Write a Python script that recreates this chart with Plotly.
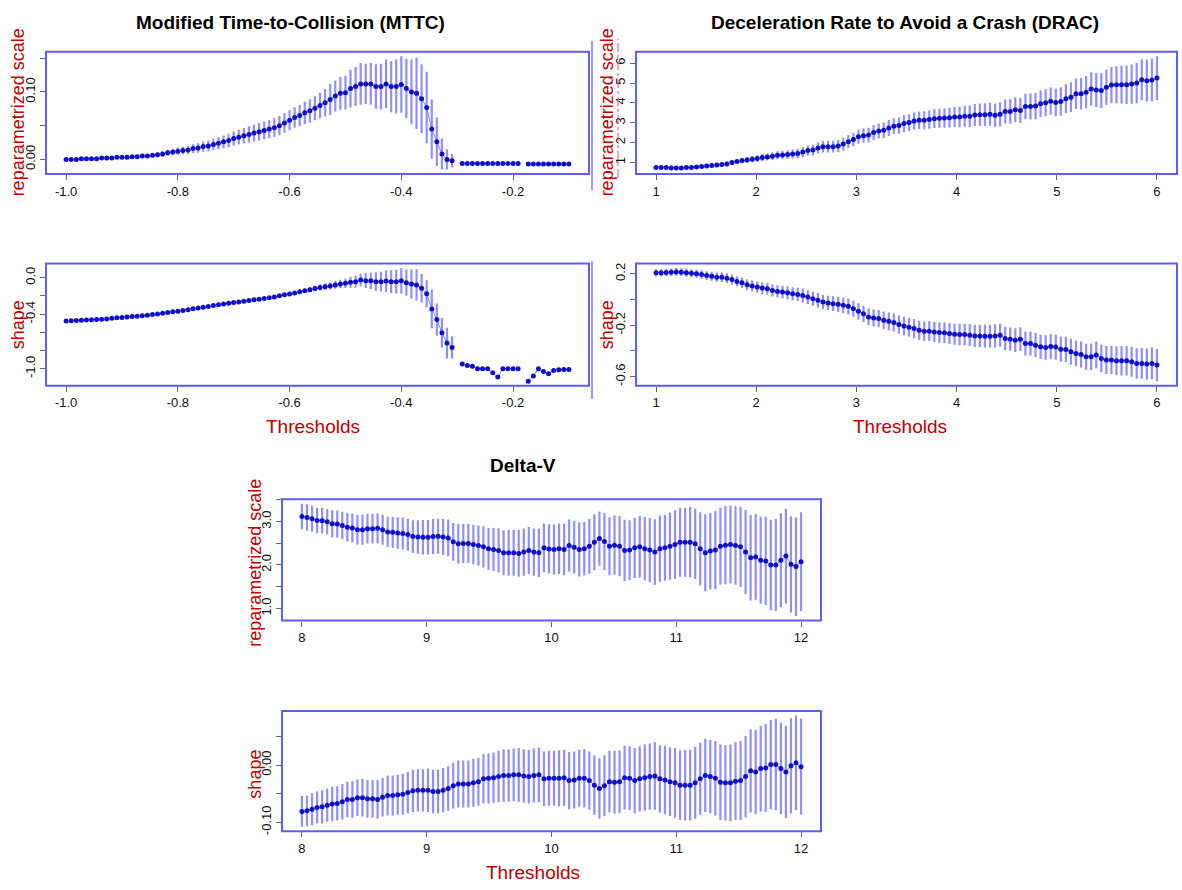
import numpy as np
import plotly.graph_objects as go

W, H = 1182, 890

# ---------------- data ----------------
N_THRESH = 100
MTTC_RANGE = (-1.0, -0.1)
DRAC_RANGE = (1.0, 6.0)
DV_RANGE = (8.0, 12.0)

MTTC_SCALE_MEAN = [
    0.000, 0.000, 0.000, 0.001, 0.001, 0.001, 0.001, 0.002, 0.002, 0.002,
    0.003, 0.003, 0.003, 0.004, 0.004, 0.005, 0.005, 0.006, 0.007, 0.008,
    0.010, 0.011, 0.012, 0.013, 0.014, 0.016, 0.017, 0.019, 0.020, 0.022,
    0.024, 0.026, 0.028, 0.031, 0.033, 0.035, 0.037, 0.039, 0.041, 0.043,
    0.045, 0.047, 0.050, 0.054, 0.058, 0.062, 0.065, 0.069, 0.072, 0.076,
    0.080, 0.084, 0.089, 0.094, 0.098, 0.099, 0.105, 0.108, 0.112, 0.112,
    0.112, 0.108, 0.108, 0.112, 0.108, 0.108, 0.111, 0.105, 0.100, 0.098,
    0.090, 0.077, 0.045, 0.026, 0.008, 0.000, -0.002, None, -0.006, -0.006,
    -0.006, -0.006, -0.006, -0.006, -0.006, -0.006, -0.006, -0.006, -0.006, -0.006,
    None, -0.007, -0.007, -0.007, -0.007, -0.007, -0.007, -0.007, -0.007, -0.007,
]
MTTC_SCALE_CI = [
    0.0005, 0.0006, 0.0007, 0.0008, 0.0009, 0.0010, 0.0011, 0.0012, 0.0013, 0.0015,
    0.0017, 0.0019, 0.0021, 0.0023, 0.0025, 0.0028, 0.0031, 0.0034, 0.0037, 0.0040,
    0.0044, 0.0048, 0.0052, 0.0056, 0.0060, 0.0065, 0.0070, 0.0075, 0.0080, 0.0085,
    0.0090, 0.0095, 0.0100, 0.0105, 0.0110, 0.0115, 0.0120, 0.0125, 0.0130, 0.0133,
    0.0136, 0.0139, 0.0142, 0.0145, 0.0148, 0.0152, 0.0158, 0.0165, 0.0172, 0.0180,
    0.0190, 0.0205, 0.0230, 0.0230, 0.0245, 0.0250, 0.0280, 0.0290, 0.0310, 0.0300,
    0.0310, 0.0330, 0.0340, 0.0360, 0.0380, 0.0400, 0.0420, 0.0440, 0.0480, 0.0530,
    0.0510, 0.0530, 0.0440, 0.0360, 0.0230, 0.0150, 0.0100, 0, 0, 0,
    0, 0, 0, 0, 0, 0, 0, 0, 0, 0,
    0, 0, 0, 0, 0, 0, 0, 0, 0, 0,
]
MTTC_SHAPE_MEAN = [
    -0.474, -0.472, -0.470, -0.468, -0.465, -0.462, -0.459, -0.456, -0.452, -0.445,
    -0.440, -0.436, -0.431, -0.427, -0.422, -0.417, -0.411, -0.405, -0.397, -0.390,
    -0.382, -0.375, -0.367, -0.359, -0.351, -0.342, -0.333, -0.324, -0.315, -0.306,
    -0.297, -0.289, -0.281, -0.273, -0.266, -0.259, -0.251, -0.243, -0.236, -0.228,
    -0.220, -0.211, -0.199, -0.188, -0.180, -0.167, -0.155, -0.143, -0.131, -0.119,
    -0.108, -0.098, -0.090, -0.079, -0.069, -0.061, -0.051, -0.043, -0.025, -0.033,
    -0.033, -0.043, -0.043, -0.036, -0.043, -0.043, -0.033, -0.054, -0.069, -0.079,
    -0.116, -0.177, -0.343, -0.459, -0.603, -0.718, -0.765, None, -0.946, -0.964,
    -0.971, -1.000, -1.000, -1.000, -1.043, -1.090, -1.000, -1.000, -1.000, -1.000,
    None, -1.137, -1.079, -1.000, -1.029, -1.054, -1.018, -1.011, -1.007, -1.007,
]
MTTC_SHAPE_CI = [
    0.004, 0.004, 0.004, 0.004, 0.004, 0.004, 0.004, 0.004, 0.004, 0.004,
    0.004, 0.004, 0.004, 0.004, 0.004, 0.004, 0.004, 0.004, 0.004, 0.004,
    0.005, 0.005, 0.005, 0.005, 0.005, 0.005, 0.005, 0.005, 0.005, 0.005,
    0.006, 0.006, 0.007, 0.007, 0.008, 0.008, 0.009, 0.010, 0.011, 0.012,
    0.013, 0.014, 0.015, 0.016, 0.018, 0.020, 0.022, 0.025, 0.028, 0.031,
    0.034, 0.037, 0.040, 0.043, 0.047, 0.053, 0.060, 0.065, 0.069, 0.081,
    0.090, 0.103, 0.108, 0.117, 0.126, 0.130, 0.139, 0.144, 0.159, 0.173,
    0.157, 0.150, 0.213, 0.177, 0.162, 0.168, 0.123, 0, 0, 0,
    0, 0, 0, 0, 0, 0, 0, 0, 0, 0,
    0, 0, 0, 0, 0, 0, 0, 0, 0, 0,
]

DRAC_SCALE_MEAN = [
    0.75, 0.75, 0.75, 0.72, 0.72, 0.73, 0.75, 0.75, 0.78, 0.80,
    0.83, 0.85, 0.87, 0.90, 0.93, 1.00, 1.05, 1.10, 1.13, 1.17,
    1.20, 1.25, 1.28, 1.32, 1.37, 1.38, 1.40, 1.43, 1.45, 1.53,
    1.60, 1.63, 1.73, 1.80, 1.80, 1.80, 1.83, 1.93, 2.05, 2.16,
    2.30, 2.35, 2.38, 2.51, 2.59, 2.63, 2.74, 2.83, 2.86, 2.96,
    3.01, 3.09, 3.13, 3.13, 3.16, 3.21, 3.23, 3.24, 3.26, 3.29,
    3.29, 3.33, 3.33, 3.39, 3.41, 3.41, 3.43, 3.38, 3.43, 3.57,
    3.57, 3.66, 3.62, 3.82, 3.82, 3.84, 3.96, 4.01, 4.09, 4.02,
    4.07, 4.21, 4.29, 4.46, 4.46, 4.54, 4.70, 4.65, 4.62, 4.79,
    4.90, 4.92, 4.92, 4.92, 4.95, 5.00, 5.17, 5.12, 5.15, 5.25,
]
DRAC_SCALE_CI = [
    0.06, 0.06, 0.06, 0.06, 0.07, 0.07, 0.07, 0.08, 0.08, 0.09,
    0.09, 0.10, 0.10, 0.11, 0.12, 0.12, 0.13, 0.14, 0.15, 0.16,
    0.17, 0.18, 0.18, 0.19, 0.20, 0.21, 0.22, 0.23, 0.24, 0.25,
    0.26, 0.27, 0.28, 0.29, 0.29, 0.30, 0.31, 0.32, 0.33, 0.34,
    0.35, 0.36, 0.37, 0.38, 0.38, 0.39, 0.40, 0.40, 0.41, 0.42,
    0.42, 0.43, 0.44, 0.45, 0.46, 0.47, 0.48, 0.49, 0.50, 0.51,
    0.52, 0.53, 0.54, 0.55, 0.56, 0.57, 0.58, 0.59, 0.62, 0.60,
    0.61, 0.62, 0.63, 0.64, 0.65, 0.66, 0.67, 0.68, 0.69, 0.70,
    0.72, 0.73, 0.75, 0.77, 0.79, 0.81, 0.84, 0.86, 0.87, 0.89,
    0.91, 0.93, 0.95, 0.97, 0.99, 1.01, 1.03, 1.05, 1.07, 1.10,
]
DRAC_SHAPE_MEAN = [
    0.208, 0.208, 0.210, 0.213, 0.215, 0.213, 0.208, 0.205, 0.200, 0.195,
    0.187, 0.182, 0.174, 0.174, 0.166, 0.156, 0.141, 0.130, 0.115, 0.105,
    0.097, 0.089, 0.084, 0.071, 0.063, 0.058, 0.053, 0.045, 0.040, 0.032,
    0.019, 0.006, -0.006, -0.019, -0.027, -0.032, -0.037, -0.045, -0.053, -0.071,
    -0.092, -0.110, -0.135, -0.143, -0.148, -0.161, -0.169, -0.179, -0.195, -0.205,
    -0.215, -0.226, -0.239, -0.246, -0.246, -0.252, -0.257, -0.259, -0.265, -0.270,
    -0.272, -0.272, -0.277, -0.283, -0.283, -0.285, -0.285, -0.283, -0.277, -0.303,
    -0.308, -0.316, -0.308, -0.342, -0.342, -0.355, -0.368, -0.373, -0.365, -0.370,
    -0.386, -0.388, -0.406, -0.419, -0.427, -0.445, -0.445, -0.432, -0.458, -0.471,
    -0.471, -0.476, -0.476, -0.476, -0.484, -0.497, -0.497, -0.502, -0.497, -0.510,
]
DRAC_SHAPE_CI = [
    0.028, 0.028, 0.029, 0.029, 0.030, 0.030, 0.031, 0.031, 0.032, 0.033,
    0.034, 0.035, 0.036, 0.037, 0.038, 0.039, 0.040, 0.041, 0.042, 0.043,
    0.044, 0.045, 0.046, 0.047, 0.048, 0.049, 0.050, 0.051, 0.052, 0.053,
    0.054, 0.055, 0.056, 0.057, 0.057, 0.058, 0.059, 0.060, 0.061, 0.062,
    0.063, 0.064, 0.065, 0.066, 0.067, 0.068, 0.069, 0.070, 0.071, 0.072,
    0.073, 0.074, 0.075, 0.076, 0.077, 0.078, 0.079, 0.080, 0.081, 0.082,
    0.083, 0.084, 0.085, 0.086, 0.087, 0.088, 0.089, 0.090, 0.090, 0.091,
    0.091, 0.092, 0.092, 0.093, 0.093, 0.094, 0.094, 0.095, 0.095, 0.096,
    0.097, 0.098, 0.099, 0.100, 0.101, 0.102, 0.104, 0.105, 0.107, 0.109,
    0.110, 0.112, 0.114, 0.115, 0.117, 0.119, 0.120, 0.122, 0.124, 0.126,
]

DV_SCALE_MEAN = [
    3.117, 3.095, 3.064, 3.026, 3.019, 2.996, 2.950, 2.943, 2.912, 2.867,
    2.852, 2.814, 2.814, 2.837, 2.837, 2.844, 2.814, 2.761, 2.753, 2.738,
    2.723, 2.700, 2.654, 2.647, 2.639, 2.639, 2.654, 2.662, 2.647, 2.624,
    2.533, 2.487, 2.495, 2.495, 2.472, 2.449, 2.419, 2.373, 2.358, 2.335,
    2.282, 2.282, 2.282, 2.267, 2.297, 2.335, 2.297, 2.282, 2.396, 2.370,
    2.358, 2.373, 2.358, 2.449, 2.411, 2.358, 2.373, 2.434, 2.525, 2.609,
    2.540, 2.434, 2.457, 2.434, 2.335, 2.343, 2.396, 2.419, 2.373, 2.343,
    2.297, 2.373, 2.396, 2.434, 2.472, 2.525, 2.525, 2.525, 2.487, 2.373,
    2.282, 2.320, 2.343, 2.434, 2.457, 2.472, 2.449, 2.419, 2.297, 2.168,
    2.183, 2.108, 2.092, 2.001, 2.001, 2.108, 2.206, 2.016, 1.963, 2.077,
]
DV_SCALE_CI = [
    0.296, 0.304, 0.300, 0.296, 0.292, 0.296, 0.311, 0.311, 0.315, 0.323,
    0.334, 0.342, 0.349, 0.342, 0.342, 0.342, 0.345, 0.349, 0.361, 0.361,
    0.364, 0.368, 0.380, 0.387, 0.399, 0.399, 0.406, 0.402, 0.414, 0.425,
    0.437, 0.452, 0.452, 0.452, 0.456, 0.463, 0.475, 0.482, 0.494, 0.509,
    0.516, 0.532, 0.532, 0.539, 0.543, 0.543, 0.543, 0.558, 0.562, 0.569,
    0.577, 0.581, 0.592, 0.600, 0.607, 0.623, 0.615, 0.634, 0.645, 0.626,
    0.661, 0.668, 0.683, 0.695, 0.706, 0.691, 0.695, 0.714, 0.733, 0.740,
    0.759, 0.759, 0.759, 0.774, 0.790, 0.797, 0.797, 0.809, 0.809, 0.843,
    0.885, 0.881, 0.904, 0.885, 0.900, 0.900, 0.904, 0.923, 0.968, 0.987,
    0.987, 1.002, 1.017, 1.044, 1.063, 1.082, 1.093, 1.109, 1.139, 1.139,
]
DV_SHAPE_MEAN = [
    -0.081, -0.080, -0.077, -0.074, -0.073, -0.070, -0.068, -0.067, -0.064, -0.060,
    -0.060, -0.057, -0.057, -0.059, -0.059, -0.060, -0.056, -0.053, -0.053, -0.052,
    -0.051, -0.048, -0.045, -0.044, -0.044, -0.044, -0.046, -0.046, -0.044, -0.041,
    -0.036, -0.033, -0.033, -0.033, -0.031, -0.029, -0.024, -0.023, -0.022, -0.020,
    -0.018, -0.018, -0.017, -0.017, -0.019, -0.020, -0.018, -0.017, -0.024, -0.023,
    -0.023, -0.023, -0.022, -0.027, -0.026, -0.023, -0.023, -0.027, -0.035, -0.041,
    -0.036, -0.029, -0.030, -0.029, -0.022, -0.023, -0.027, -0.024, -0.022, -0.020,
    -0.019, -0.024, -0.026, -0.029, -0.031, -0.035, -0.035, -0.035, -0.031, -0.024,
    -0.018, -0.020, -0.023, -0.030, -0.031, -0.031, -0.028, -0.027, -0.020, -0.010,
    -0.012, -0.006, -0.005, 0.001, 0.001, -0.006, -0.012, -0.001, 0.004, -0.003,
]
DV_SHAPE_CI = [
    0.027, 0.027, 0.028, 0.028, 0.029, 0.029, 0.030, 0.030, 0.031, 0.031,
    0.032, 0.032, 0.033, 0.033, 0.033, 0.034, 0.034, 0.035, 0.035, 0.035,
    0.036, 0.036, 0.037, 0.037, 0.037, 0.038, 0.038, 0.038, 0.039, 0.039,
    0.040, 0.041, 0.041, 0.041, 0.042, 0.042, 0.043, 0.044, 0.044, 0.045,
    0.046, 0.046, 0.046, 0.047, 0.047, 0.047, 0.047, 0.048, 0.048, 0.048,
    0.048, 0.049, 0.049, 0.050, 0.050, 0.050, 0.051, 0.051, 0.052, 0.053,
    0.053, 0.054, 0.055, 0.055, 0.056, 0.056, 0.057, 0.057, 0.058, 0.058,
    0.059, 0.059, 0.060, 0.060, 0.061, 0.061, 0.062, 0.062, 0.063, 0.063,
    0.064, 0.064, 0.065, 0.066, 0.066, 0.067, 0.068, 0.069, 0.071, 0.073,
    0.074, 0.075, 0.077, 0.078, 0.080, 0.080, 0.081, 0.083, 0.083, 0.084,
]

TITLES = ["Modified Time-to-Collision (MTTC)",
          "Deceleration Rate to Avoid a Crash (DRAC)",
          "Delta-V"]
YLAB_SCALE = "reparametrized scale"
YLAB_SHAPE = "shape"
XLAB = "Thresholds"

X_TICKS = {
    "mttc": ([-1.0, -0.8, -0.6, -0.4, -0.2], ["-1.0", "-0.8", "-0.6", "-0.4", "-0.2"]),
    "drac": ([1, 2, 3, 4, 5, 6], ["1", "2", "3", "4", "5", "6"]),
    "dv": ([8, 9, 10, 11, 12], ["8", "9", "10", "11", "12"]),
}
Y_TICKS = {
    "mttc_scale": ([0.0, 0.05, 0.10, 0.15], ["0.00", "", "0.10", ""]),
    "mttc_shape": ([0.0, -0.2, -0.4, -0.6, -0.8, -1.0], ["0.0", "", "-0.4", "", "", "-1.0"]),
    "drac_scale": ([1, 2, 3, 4, 5, 6], ["1", "2", "3", "4", "5", "6"]),
    "drac_shape": ([0.2, 0.0, -0.2, -0.4, -0.6], ["0.2", "", "-0.2", "", "-0.6"]),
    "dv_scale": ([1.0, 1.5, 2.0, 2.5, 3.0, 3.5], ["1.0", "", "2.0", "", "3.0", ""]),
    "dv_shape": ([-0.10, -0.05, 0.0, 0.05], ["-0.10", "", "0.00", ""]),
}

# ---------------- styling ----------------
FONT = "Arial, Liberation Sans, sans-serif"
RED = "#C00000"
BOX = "#5c5cff"
PT = "#1010cc"
BAR = "rgba(100,100,255,0.72)"
LINE = "rgba(90,90,255,0.8)"

# panel boxes in pixels: (left, right, top, bottom)
PANELS = [
    ("mttc", "mttc_scale", MTTC_RANGE, MTTC_SCALE_MEAN, MTTC_SCALE_CI, (46, 589, 51, 174)),
    ("mttc", "mttc_shape", MTTC_RANGE, MTTC_SHAPE_MEAN, MTTC_SHAPE_CI, (46, 589, 264, 387)),
    ("drac", "drac_scale", DRAC_RANGE, DRAC_SCALE_MEAN, DRAC_SCALE_CI, (636, 1177, 51, 174)),
    ("drac", "drac_shape", DRAC_RANGE, DRAC_SHAPE_MEAN, DRAC_SHAPE_CI, (636, 1177, 264, 387)),
    ("dv", "dv_scale", DV_RANGE, DV_SCALE_MEAN, DV_SCALE_CI, (282, 821, 501, 623)),
    ("dv", "dv_shape", DV_RANGE, DV_SHAPE_MEAN, DV_SHAPE_CI, (282, 821, 714, 835)),
]


def px(x):
    return x / W


def py(y):
    return 1 - y / H


fig = go.Figure()
layout = dict(
    width=W, height=H, margin=dict(l=0, r=0, t=0, b=0),
    paper_bgcolor="white", plot_bgcolor="white", showlegend=False,
    font=dict(family=FONT, color="#111"), hovermode=False,
)
shapes = []

for k, (xkey, ykey, rng, mean, ci, (l, r, t, b)) in enumerate(PANELS):
    idx = "" if k == 0 else str(k + 1)
    thr = np.linspace(rng[0], rng[1], N_THRESH)
    m = np.array([np.nan if v is None else v for v in mean], dtype=float)
    c = np.array(ci, dtype=float)
    lo = np.nanmin(m - c)
    hi = np.nanmax(m + c)
    pad = 0.04 * (hi - lo)
    xpad = 0.04 * (rng[1] - rng[0])

    fig.add_trace(go.Scatter(
        x=thr, y=m, mode="lines+markers",
        xaxis="x" + idx, yaxis="y" + idx,
        line=dict(color=LINE, width=1),
        marker=dict(size=5, color=PT),
        error_y=dict(type="data", array=c, visible=True, thickness=2.2,
                     width=0, color=BAR),
        connectgaps=False,
    ))
    tv, tt = X_TICKS[xkey]
    yv, yt = Y_TICKS[ykey]
    layout["xaxis" + idx] = dict(
        domain=[px(l), px(r)], range=[rng[0] - xpad, rng[1] + xpad],
        anchor="y" + idx, showgrid=False, zeroline=False, showline=False,
        ticks="outside", ticklen=5, tickcolor="#666", tickwidth=1,
        tickvals=tv, ticktext=tt, tickfont=dict(size=13, color="#111", family=FONT),
    )
    layout["yaxis" + idx] = dict(
        domain=[py(b), py(t)], range=[lo - pad, hi + pad],
        anchor="x" + idx, showgrid=False, zeroline=False, showline=False,
        ticks="outside", ticklen=5, tickcolor="#666", tickwidth=1,
        tickvals=yv, ticktext=yt, tickangle=-90,
        tickfont=dict(size=13, color="#111", family=FONT),
    )
    shapes.append(dict(type="rect", xref="x" + idx + " domain", yref="y" + idx + " domain",
                       x0=0, x1=1, y0=0, y1=1, line=dict(color=BOX, width=2),
                       fillcolor="rgba(0,0,0,0)", layer="above"))

# stray text-box frame lines near the DRAC y label (as in the source image)
shapes += [
    dict(type="line", xref="paper", yref="paper", x0=px(592), x1=px(592),
         y0=py(190), y1=py(40), line=dict(color="#7777ff", width=1.5)),
    dict(type="line", xref="paper", yref="paper", x0=px(592), x1=px(592),
         y0=py(400), y1=py(262), line=dict(color="#7777ff", width=1.5)),
    dict(type="line", xref="paper", yref="paper", x0=px(618), x1=px(618),
         y0=py(178), y1=py(38), line=dict(color="#ee5555", width=1, dash="dashdot")),
]
layout["shapes"] = shapes

ann = []
for text, x, y in [(TITLES[0], 290, 22), (TITLES[1], 905, 22), (TITLES[2], 523, 467)]:
    ann.append(dict(text="<b>%s</b>" % text, x=px(x), y=py(y), xref="paper", yref="paper",
                    showarrow=False, xanchor="center", yanchor="middle",
                    font=dict(size=19, color="#000", family=FONT)))
for text, x, y in [(YLAB_SCALE, 18, 112), (YLAB_SHAPE, 18, 326),
                   (YLAB_SCALE, 607, 112), (YLAB_SHAPE, 607, 326),
                   (YLAB_SCALE, 255, 565), (YLAB_SHAPE, 255, 778)]:
    ann.append(dict(text=text, x=px(x), y=py(y), xref="paper", yref="paper",
                    showarrow=False, xanchor="center", yanchor="middle", textangle=-90,
                    font=dict(size=18, color=RED, family=FONT)))
for x, y in [(313, 428), (900, 428), (533, 876)]:
    ann.append(dict(text=XLAB, x=px(x), y=py(y), xref="paper", yref="paper",
                    showarrow=False, xanchor="center", yanchor="middle",
                    font=dict(size=19, color=RED, family=FONT)))
layout["annotations"] = ann

fig.update_layout(**layout)
fig.write_html("out.html", config={"displayModeBar": False})

# remove the browser's default 8px body margin so the figure sits at (0, 0)
with open("out.html", "r", encoding="utf-8") as f:
    html = f.read()
html = html.replace("<head>", "<head><style>html,body{margin:0;padding:0;overflow:hidden;}</style>", 1)
with open("out.html", "w", encoding="utf-8") as f:
    f.write(html)
